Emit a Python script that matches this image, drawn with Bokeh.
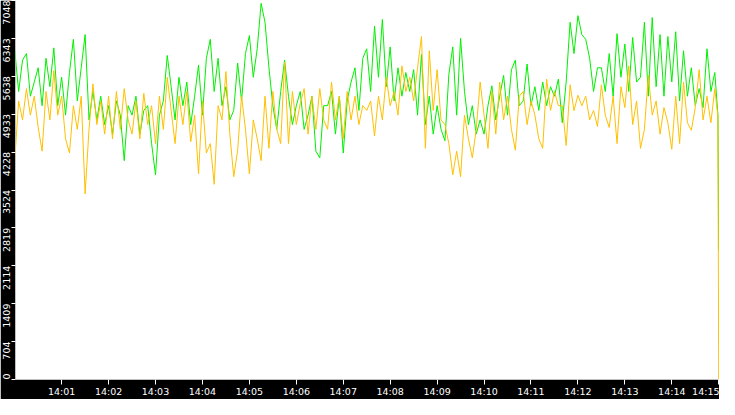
import numpy as np

from bokeh.plotting import figure
from bokeh.models import FixedTicker, LinearAxis, ColumnDataSource
from bokeh.embed import file_html
from bokeh.resources import INLINE

# seconds after 14:00:00, one sample every 5 s, plus the closing drop
secs = list(range(0, 900, 5)) + [899, 900]

green = [6132, 5356, 5938, 6061, 5268, 5532, 5797, 5092, 5973, 5445,
         6167, 5092, 5621, 4916, 5709, 6326, 5180, 5797, 6414, 4828,
         5356, 4828, 5268, 4740, 5092, 4563, 5180, 4916, 4070, 5092,
         4916, 5268, 4563, 5004, 5092, 4387, 3806, 4916, 5180, 6026,
         5445, 4828, 5621, 5092, 5532, 4740, 5268, 5850, 4916, 5973,
         6326, 5356, 5973, 5092, 5445, 4828, 5004, 5885, 5180, 6061,
         6396, 5621, 6150, 6995, 6643, 5797, 5092, 4652, 5356, 5938,
         5268, 4740, 5092, 5356, 4652, 4916, 5268, 4246, 4123, 5092,
         5092, 5356, 4563, 5268, 4211, 5180, 5532, 5797, 5004, 5973,
         6150, 5356, 6572, 5621, 6696, 5445, 6185, 5180, 5797, 5268,
         5709, 5356, 5762, 4916, 6044, 4740, 5268, 4563, 5092, 4652,
         4440, 5674, 6185, 4916, 6343, 5356, 4740, 5092, 4563, 4828,
         4563, 5092, 5462, 4828, 5268, 5656, 4916, 5762, 5938, 5092,
         5180, 5867, 5092, 5445, 5004, 5532, 5092, 5445, 5268, 5586,
         4775, 5532, 6643, 6061, 6766, 6414, 6326, 5973, 5356, 5797,
         5797, 5356, 6061, 5268, 6431, 5621, 6238, 5356, 6361, 5532,
         5621, 6643, 5268, 6731, 5445, 6414, 5268, 6378, 5532, 6467,
         5180, 6114, 5268, 5797, 5092, 5410, 5057, 6150, 5356, 5709,
         4916, 2400]

orange = [4070, 5180, 4828, 5409, 4916, 5268, 4687, 4246, 5356, 4828,
          5744, 4916, 5268, 4475, 4211, 5092, 4652, 5268, 3453, 4652,
          5497, 4740, 5180, 4563, 5268, 4475, 5356, 4652, 5409, 4828,
          4563, 5180, 4475, 5321, 4740, 5092, 4387, 5268, 4652, 5621,
          5004, 4387, 5268, 4740, 5356, 4422, 4916, 3823, 5180, 4211,
          4387, 3630, 5092, 4828, 5727, 4563, 3771, 4264, 5268, 4652,
          3823, 4828, 4475, 4070, 5268, 4299, 5356, 4652, 4387, 5903,
          4387, 5356, 4740, 5127, 5409, 4563, 5268, 4652, 5409, 4828,
          4652, 5532, 4828, 5268, 4475, 5356, 4828, 5268, 4740, 5092,
          5004, 5180, 4528, 5268, 4828, 5621, 5092, 5356, 4916, 5832,
          5356, 5621, 5180, 5797, 6378, 4299, 6114, 5004, 5762, 4828,
          4740, 4387, 3806, 4246, 3771, 4916, 4475, 4123, 4652, 5532,
          4916, 4299, 5356, 4563, 5532, 4828, 5268, 4652, 4264, 5268,
          5356, 4740, 5180, 4916, 4475, 4299, 5586, 5004, 5356, 5092,
          5092, 4352, 5480, 4999, 5286, 5092, 5268, 4828, 5004, 4705,
          5480, 4916, 4687, 5268, 4387, 5445, 5057, 5832, 4740, 5180,
          4299, 4652, 5656, 4916, 5180, 4563, 5057, 4775, 4282, 5268,
          4387, 5532, 4775, 4634, 5057, 5762, 4828, 5268, 4775, 5409,
          4881, 0]

x_ticks = list(range(60, 901, 60))
x_labels = ["14:%02d" % m for m in range(1, 16)]
y_max = 7048
y_ticks = [y_max * k / 10 for k in range(11)]
y_labels = [str(int(t)) for t in y_ticks]

src = ColumnDataSource(dict(t=secs, green=green, orange=orange))

W, H = 719, 399
FONT = "DejaVu Sans"
FS = 9.5

p = figure(width=W, height=H, output_backend="svg", toolbar_location=None,
           x_range=(1, 901), y_range=(0, y_max))
p.min_border_left = 0
p.min_border_right = 0
p.min_border_top = 0
p.min_border_bottom = 0
p.border_fill_color = "black"
p.background_fill_color = "white"
p.outline_line_color = None
p.grid.grid_line_color = None

p.line("t", "green", source=src, color="#00f000", line_width=1)
p.line("t", "orange", source=src, color="#ffc000", line_width=1)

# x axis
xa = p.xaxis[0]
xa.ticker = FixedTicker(ticks=x_ticks)
xa.major_label_overrides = dict(zip(x_ticks, x_labels))
xa.axis_line_color = None
xa.major_tick_line_color = "white"
xa.major_tick_in = 0
xa.major_tick_out = 5
xa.minor_tick_line_color = None
xa.major_label_text_color = "white"
xa.major_label_text_font = FONT
xa.major_label_text_font_size = "%spx" % FS
xa.major_label_standoff = 1

# y axis next to the frame: tick marks only
ya = p.yaxis[0]
ya.ticker = FixedTicker(ticks=y_ticks)
ya.major_label_overrides = {t: "" for t in y_ticks}
ya.axis_line_color = None
ya.major_tick_line_color = "white"
ya.major_tick_in = 0
ya.major_tick_out = 4
ya.minor_tick_line_color = None
ya.major_label_standoff = 0

# y labels hang just below their tick, read upward
dpp = y_max / (H - 17)
lab_pos = []
for t, s in zip(y_ticks, y_labels):
    half = len(s) * 0.636 * FS / 2
    c = t - half * dpp
    if c < half * dpp:
        c = half * dpp
    lab_pos.append(int(round(c)))

yl = LinearAxis(ticker=FixedTicker(ticks=lab_pos))
yl.major_label_overrides = dict(zip(lab_pos, y_labels))
yl.axis_line_color = None
yl.major_tick_line_color = None
yl.major_tick_in = 0
yl.major_tick_out = 0
yl.minor_tick_line_color = None
yl.major_label_orientation = "vertical"
yl.major_label_text_color = "white"
yl.major_label_text_font = FONT
yl.major_label_text_font_size = "%spx" % FS
yl.major_label_standoff = 1
p.add_layout(yl, "left")

open("out.html", "w").write(file_html(p, INLINE))
